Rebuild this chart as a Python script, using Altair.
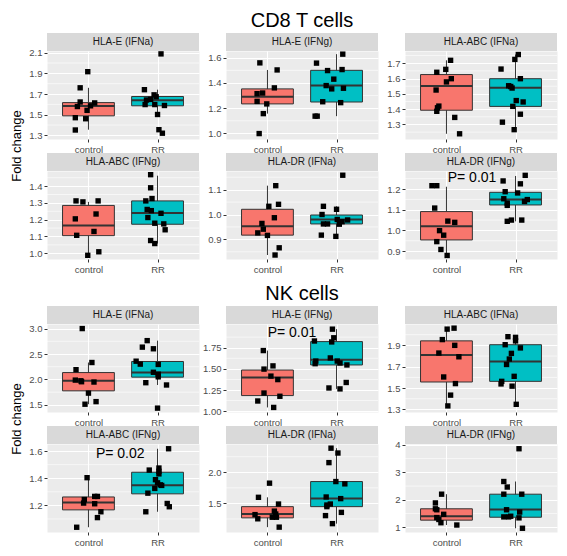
import altair as alt
import pandas as pd

FONT = "Liberation Sans"
W, H = 152, 88
BOX_HALF = 0.375
FILLS = ["#F8766D", "#00BFC4"]
GROUPS = ["control", "RR"]

# ---------------- CD8 T cells ----------------
# HLA-E (IFNa)
cd8_e_ifna_control = [1.916, 1.760, 1.623, 1.579, 1.586, 1.614, 1.542, 1.471, 1.461, 1.352]
cd8_e_ifna_control_jitter = [-0.01, -0.12, -0.12, -0.16, 0.03, 0.09, -0.02, -0.19, -0.04, -0.19]
cd8_e_ifna_rr = [2.088, 1.742, 1.692, 1.673, 1.642, 1.648, 1.598, 1.598, 1.589, 1.502, 1.355, 1.321]
cd8_e_ifna_rr_jitter = [0.05, -0.19, -0.05, -0.02, -0.16, -0.10, -0.18, -0.04, 0.10, 0.0, 0.02, 0.07]
cd8_e_ifna_box_control = [1.355, 1.489, 1.583, 1.617, 1.760]   # low, q1, median, q3, high
cd8_e_ifna_box_rr = [1.502, 1.586, 1.639, 1.676, 1.742]

# HLA-E (IFNg)
cd8_e_ifng_control = [1.559, 1.503, 1.361, 1.320, 1.315, 1.254, 1.234, 1.157, 0.999]
cd8_e_ifng_control_jitter = [-0.11, 0.14, 0.10, -0.07, -0.15, -0.15, -0.01, -0.06, -0.12]
cd8_e_ifng_rr = [1.628, 1.557, 1.498, 1.506, 1.430, 1.379, 1.353, 1.358, 1.251, 1.244, 1.137, 1.137]
cd8_e_ifng_rr_jitter = [0.09, -0.29, -0.13, 0.08, -0.04, -0.15, -0.07, 0.10, -0.20, 0.06, -0.31, -0.28]
cd8_e_ifng_box_control = [1.157, 1.234, 1.290, 1.353, 1.503]
cd8_e_ifng_box_rr = [1.137, 1.249, 1.379, 1.500, 1.628]

# HLA-ABC (IFNa)
cd8_abc_ifna_control = [1.719, 1.660, 1.641, 1.599, 1.578, 1.525, 1.420, 1.409, 1.386, 1.346, 1.239]
cd8_abc_ifna_control_jitter = [0.06, -0.01, -0.14, 0.07, 0.0, -0.15, -0.11, -0.13, -0.14, 0.12, 0.19]
cd8_abc_ifna_rr = [1.757, 1.725, 1.662, 1.599, 1.553, 1.548, 1.538, 1.456, 1.447, 1.418, 1.367, 1.315, 1.266]
cd8_abc_ifna_rr_jitter = [0.04, -0.01, -0.21, 0.07, -0.10, -0.07, -0.05, 0.01, 0.11, -0.04, 0.07, -0.19, -0.02]
cd8_abc_ifna_box_control = [1.239, 1.393, 1.551, 1.626, 1.719]
cd8_abc_ifna_box_rr = [1.266, 1.418, 1.540, 1.599, 1.757]

# HLA-ABC (IFNg)
cd8_abc_ifng_control = [1.312, 1.306, 1.312, 1.234, 1.205, 1.107, 1.130, 1.009, 0.988]
cd8_abc_ifng_control_jitter = [-0.18, -0.08, 0.14, 0.11, -0.19, -0.17, 0.08, 0.15, -0.01]
cd8_abc_ifng_rr = [1.468, 1.390, 1.326, 1.312, 1.261, 1.254, 1.213, 1.238, 1.179, 1.175, 1.140, 1.076, 1.058]
cd8_abc_ifng_rr_jitter = [-0.10, -0.10, -0.08, -0.17, -0.15, -0.09, -0.14, 0.05, -0.04, 0.09, 0.11, -0.10, -0.04]
cd8_abc_ifng_box_control = [0.988, 1.105, 1.166, 1.285, 1.306]
cd8_abc_ifng_box_rr = [1.058, 1.173, 1.240, 1.312, 1.462]

# HLA-DR (IFNa)
cd8_dr_ifna_control = [1.116, 1.041, 1.033, 0.987, 0.964, 0.941, 0.926, 0.916, 0.866, 0.837]
cd8_dr_ifna_control_jitter = [0.12, 0.16, 0.02, 0.10, -0.08, -0.06, -0.14, 0.0, 0.17, 0.11]
cd8_dr_ifna_rr = [1.158, 1.033, 1.021, 1.000, 0.980, 0.978, 0.971, 0.962, 0.962, 0.961, 0.917, 0.912]
cd8_dr_ifna_rr_jitter = [0.09, -0.19, 0.0, -0.21, 0.01, 0.16, 0.08, -0.19, -0.13, 0.04, -0.22, -0.01]
cd8_dr_ifna_box_control = [0.837, 0.917, 0.953, 1.021, 1.116]
cd8_dr_ifna_box_rr = [0.912, 0.962, 0.980, 0.998, 1.033]

# HLA-DR (IFNg)
cd8_dr_ifng_control = [1.216, 1.216, 1.108, 1.045, 1.039, 0.999, 0.977, 0.946, 0.908, 0.879]
cd8_dr_ifng_control_jitter = [-0.21, -0.14, -0.17, 0.02, 0.12, -0.10, -0.04, -0.14, -0.08, 0.01]
cd8_dr_ifng_rr = [1.266, 1.239, 1.225, 1.187, 1.181, 1.153, 1.132, 1.149, 1.140, 1.121, 1.044, 1.050, 1.050]
cd8_dr_ifng_rr_jitter = [0.14, -0.18, 0.07, -0.15, 0.03, -0.17, -0.12, 0.17, 0.13, -0.12, -0.12, -0.06, 0.09]
cd8_dr_ifng_box_control = [0.879, 0.954, 1.020, 1.091, 1.211]
cd8_dr_ifng_box_rr = [1.044, 1.123, 1.149, 1.184, 1.263]

# ---------------- NK cells ----------------
# HLA-E (IFNa)
nk_e_ifna_control = [3.0, 2.333, 2.192, 1.987, 1.974, 1.955, 1.949, 1.731, 1.513, 1.564]
nk_e_ifna_control_jitter = [-0.09, 0.05, -0.18, -0.19, -0.11, -0.10, 0.08, 0.0, -0.05, 0.11]
nk_e_ifna_rr = [2.763, 2.635, 2.603, 2.359, 2.301, 2.295, 2.141, 2.103, 2.051, 1.936, 1.891, 1.436]
nk_e_ifna_rr_jitter = [-0.15, -0.22, -0.06, -0.31, -0.25, 0.01, -0.06, 0.01, 0.01, -0.17, 0.13, 0.0]
nk_e_ifna_box_control = [1.513, 1.776, 1.974, 2.135, 2.333]
nk_e_ifna_box_rr = [1.891, 2.045, 2.135, 2.353, 2.763]

# HLA-E (IFNg)
nk_e_ifng_control = [1.716, 1.535, 1.497, 1.414, 1.373, 1.214, 1.176, 1.120, 1.044]
nk_e_ifng_control_jitter = [-0.06, 0.08, -0.05, 0.05, 0.15, -0.05, 0.18, -0.14, 0.09]
nk_e_ifng_rr = [1.969, 1.867, 1.829, 1.818, 1.629, 1.592, 1.592, 1.569, 1.561, 1.546, 1.339, 1.274, 1.263]
nk_e_ifng_rr_jitter = [-0.06, -0.04, -0.32, -0.07, -0.09, -0.30, 0.01, 0.05, -0.31, 0.15, 0.14, -0.11, 0.05]
nk_e_ifng_box_control = [1.044, 1.184, 1.399, 1.486, 1.716]
nk_e_ifng_box_rr = [1.263, 1.546, 1.607, 1.822, 1.969]

# HLA-ABC (IFNa)
nk_abc_ifna_control = [2.052, 2.061, 1.954, 1.900, 1.828, 1.793, 1.604, 1.542, 1.434, 1.333]
nk_abc_ifna_control_jitter = [0.01, 0.11, -0.06, 0.12, -0.11, 0.18, -0.04, 0.13, 0.06, 0.02]
nk_abc_ifna_rr = [1.981, 1.975, 1.942, 1.906, 1.876, 1.825, 1.772, 1.721, 1.610, 1.563, 1.539, 1.518, 1.348]
nk_abc_ifna_rr_jitter = [-0.11, 0.0, 0.0, -0.15, 0.07, -0.06, -0.09, -0.13, -0.02, -0.20, -0.21, -0.05, 0.01]
nk_abc_ifna_box_control = [1.333, 1.557, 1.810, 1.942, 2.061]
nk_abc_ifna_box_rr = [1.348, 1.563, 1.748, 1.906, 1.981]

# HLA-ABC (IFNg)
nk_abc_ifng_control = [1.404, 1.266, 1.266, 1.243, 1.217, 1.212, 1.153, 1.110, 1.039]
nk_abc_ifng_control_jitter = [-0.02, 0.09, 0.13, -0.06, -0.07, 0.09, 0.18, 0.13, -0.17]
nk_abc_ifng_rr = [1.617, 1.460, 1.475, 1.451, 1.432, 1.389, 1.366, 1.351, 1.347, 1.325, 1.290, 1.214, 1.190, 1.153]
nk_abc_ifng_rr_jitter = [0.16, -0.12, 0.02, 0.02, 0.02, -0.03, 0.0, 0.04, 0.06, -0.04, -0.14, 0.14, 0.17, -0.17]
nk_abc_ifng_box_control = [1.039, 1.167, 1.221, 1.262, 1.404]
nk_abc_ifng_box_rr = [1.153, 1.285, 1.349, 1.444, 1.617]

# HLA-DR (IFNa)
nk_dr_ifna_control = [1.825, 1.598, 1.490, 1.376, 1.330, 1.320, 1.253, 1.278, 1.278, 1.119]
nk_dr_ifna_control_jitter = [0.03, -0.13, 0.16, 0.10, 0.12, -0.18, -0.14, 0.07, 0.13, 0.17]
nk_dr_ifna_rr = [2.387, 2.309, 2.155, 1.851, 1.814, 1.603, 1.577, 1.490, 1.474, 1.448, 1.356, 1.304, 1.175]
nk_dr_ifna_rr_jitter = [-0.08, 0.02, -0.11, -0.01, 0.12, -0.15, 0.06, -0.09, -0.14, -0.14, 0.07, -0.16, -0.06]
nk_dr_ifna_box_control = [1.119, 1.268, 1.330, 1.448, 1.598]
nk_dr_ifna_box_rr = [1.175, 1.448, 1.577, 1.851, 2.387]

# HLA-DR (IFNg)
nk_dr_ifng_control = [2.205, 1.887, 1.674, 1.639, 1.473, 1.355, 1.285, 1.167, 1.084]
nk_dr_ifng_control_jitter = [-0.07, -0.16, -0.16, -0.14, -0.04, -0.14, -0.11, -0.08, 0.15]
nk_dr_ifng_rr = [3.858, 2.666, 2.465, 2.205, 2.205, 1.639, 1.556, 1.379, 1.379, 1.403, 1.344, 0.966]
nk_dr_ifng_rr_jitter = [0.05, -0.17, -0.12, -0.17, 0.09, -0.13, 0.06, -0.17, -0.10, -0.07, 0.05, 0.10]
nk_dr_ifng_box_control = [1.084, 1.261, 1.403, 1.674, 2.205]
nk_dr_ifng_box_rr = [0.966, 1.367, 1.651, 2.205, 2.666]

# annotations
p_labels = ["P= 0.01", "P= 0.01", "P= 0.02"]
group_titles = ["CD8 T cells", "NK cells"]
y_title = "Fold change"

PANELS = [
    dict(title="HLA-E (IFNa)", c=cd8_e_ifna_control, cj=cd8_e_ifna_control_jitter, r=cd8_e_ifna_rr, rj=cd8_e_ifna_rr_jitter,
         bc=cd8_e_ifna_box_control, br=cd8_e_ifna_box_rr, domain=[1.265, 2.116], ticks=[1.3, 1.5, 1.7, 1.9, 2.1], fmt=".1f"),
    dict(title="HLA-E (IFNg)", c=cd8_e_ifng_control, cj=cd8_e_ifng_control_jitter, r=cd8_e_ifng_rr, rj=cd8_e_ifng_rr_jitter,
         bc=cd8_e_ifng_box_control, br=cd8_e_ifng_box_rr, domain=[0.956, 1.653], ticks=[1.0, 1.2, 1.4, 1.6], fmt=".1f",
         group=group_titles[0]),
    dict(title="HLA-ABC (IFNa)", c=cd8_abc_ifna_control, cj=cd8_abc_ifna_control_jitter, r=cd8_abc_ifna_rr, rj=cd8_abc_ifna_rr_jitter,
         bc=cd8_abc_ifna_box_control, br=cd8_abc_ifna_box_rr, domain=[1.205, 1.78], ticks=[1.3, 1.4, 1.5, 1.6, 1.7], fmt=".1f"),
    dict(title="HLA-ABC (IFNg)", c=cd8_abc_ifng_control, cj=cd8_abc_ifng_control_jitter, r=cd8_abc_ifng_rr, rj=cd8_abc_ifng_rr_jitter,
         bc=cd8_abc_ifng_box_control, br=cd8_abc_ifng_box_rr, domain=[0.966, 1.49], ticks=[1.0, 1.1, 1.2, 1.3, 1.4], fmt=".1f"),
    dict(title="HLA-DR (IFNa)", c=cd8_dr_ifna_control, cj=cd8_dr_ifna_control_jitter, r=cd8_dr_ifna_rr, rj=cd8_dr_ifna_rr_jitter,
         bc=cd8_dr_ifna_box_control, br=cd8_dr_ifna_box_rr, domain=[0.821, 1.175], ticks=[0.9, 1.0, 1.1], fmt=".1f"),
    dict(title="HLA-DR (IFNg)", c=cd8_dr_ifng_control, cj=cd8_dr_ifng_control_jitter, r=cd8_dr_ifng_rr, rj=cd8_dr_ifng_rr_jitter,
         bc=cd8_dr_ifng_box_control, br=cd8_dr_ifng_box_rr, domain=[0.862, 1.287], ticks=[0.9, 1.0, 1.1, 1.2], fmt=".1f",
         p=(p_labels[0], 1.37, 1.252)),
    dict(title="HLA-E (IFNa)", c=nk_e_ifna_control, cj=nk_e_ifna_control_jitter, r=nk_e_ifna_rr, rj=nk_e_ifna_rr_jitter,
         bc=nk_e_ifna_box_control, br=nk_e_ifna_box_rr, domain=[1.36, 3.09], ticks=[1.5, 2.0, 2.5, 3.0], fmt=".1f"),
    dict(title="HLA-E (IFNg)", c=nk_e_ifng_control, cj=nk_e_ifng_control_jitter, r=nk_e_ifng_rr, rj=nk_e_ifng_rr_jitter,
         bc=nk_e_ifng_box_control, br=nk_e_ifng_box_rr, domain=[0.99, 2.03], ticks=[1.0, 1.25, 1.5, 1.75], fmt=".2f",
         p=(p_labels[1], 1.355, 1.924), group=group_titles[1]),
    dict(title="HLA-ABC (IFNa)", c=nk_abc_ifna_control, cj=nk_abc_ifna_control_jitter, r=nk_abc_ifna_rr, rj=nk_abc_ifna_rr_jitter,
         bc=nk_abc_ifna_box_control, br=nk_abc_ifna_box_rr, domain=[1.276, 2.10], ticks=[1.3, 1.5, 1.7, 1.9], fmt=".1f"),
    dict(title="HLA-ABC (IFNg)", c=nk_abc_ifng_control, cj=nk_abc_ifng_control_jitter, r=nk_abc_ifng_rr, rj=nk_abc_ifng_rr_jitter,
         bc=nk_abc_ifng_box_control, br=nk_abc_ifng_box_rr, domain=[1.004, 1.652], ticks=[1.2, 1.4, 1.6], fmt=".1f",
         p=(p_labels[2], 1.46, 1.576)),
    dict(title="HLA-DR (IFNa)", c=nk_dr_ifna_control, cj=nk_dr_ifna_control_jitter, r=nk_dr_ifna_rr, rj=nk_dr_ifna_rr_jitter,
         bc=nk_dr_ifna_box_control, br=nk_dr_ifna_box_rr, domain=[1.041, 2.454], ticks=[1.5, 2.0], fmt=".1f"),
    dict(title="HLA-DR (IFNg)", c=nk_dr_ifng_control, cj=nk_dr_ifng_control_jitter, r=nk_dr_ifng_rr, rj=nk_dr_ifng_rr_jitter,
         bc=nk_dr_ifng_box_control, br=nk_dr_ifng_box_rr, domain=[0.83, 4.03], ticks=[1, 2, 3, 4], fmt="d"),
]


def make_panel(spec, ylabel=False):
    pts = pd.DataFrame({
        "group": ["control"] * len(spec["c"]) + ["RR"] * len(spec["r"]),
        "xj": [1 + j for j in spec["cj"]] + [2 + j for j in spec["rj"]],
        "value": spec["c"] + spec["r"],
    })
    bc, br = spec["bc"], spec["br"]
    box = pd.DataFrame({
        "group": GROUPS,
        "pos": [1, 2],
        "lo": [bc[0], br[0]],
        "q1": [bc[1], br[1]],
        "med": [bc[2], br[2]],
        "q3": [bc[3], br[3]],
        "hi": [bc[4], br[4]],
    })
    box["x1"] = box["pos"] - BOX_HALF
    box["x2"] = box["pos"] + BOX_HALF

    ticks = spec["ticks"]
    dom = spec["domain"]
    step = ticks[1] - ticks[0]
    minor = [t - step / 2 for t in ticks] + [ticks[-1] + step / 2]
    minor = [m for m in minor if dom[0] <= m <= dom[1]]

    xs = alt.Scale(domain=[0.4, 2.6], nice=False, zero=False)
    ys = alt.Scale(domain=dom, nice=False, zero=False)
    common = dict(title=None, domain=False, tickColor="#333333", tickSize=3, tickWidth=1,
                  labelColor="#4D4D4D", labelFont=FONT, labelFontSize=9.5, grid=True,
                  gridColor="white", gridWidth=1.1)
    xaxis = alt.Axis(values=[1, 2], labelExpr="datum.value == 1 ? 'control' : 'RR'", labelPadding=2, **common)
    yaxis = alt.Axis(values=ticks, format=spec["fmt"], labelPadding=2, **common)

    def X(f):
        return alt.X(f, type="quantitative", scale=xs, axis=xaxis)

    def Y(f):
        return alt.Y(f, type="quantitative", scale=ys, axis=yaxis)

    color = alt.Color("group:N", scale=alt.Scale(domain=GROUPS, range=FILLS), legend=None)

    minor_grid = alt.Chart(pd.DataFrame({"m": minor})).mark_rule(color="white", strokeWidth=0.6).encode(y=Y("m"))
    whisk = alt.Chart(box).mark_rule(color="#333333", strokeWidth=1).encode(x=X("pos"), y=Y("lo"), y2="hi")
    boxes = alt.Chart(box).mark_rect(stroke="#333333", strokeWidth=1, opacity=1).encode(
        x=X("x1"), x2="x2", y=Y("q1"), y2="q3", color=color)
    med = alt.Chart(box).mark_rule(color="#333333", strokeWidth=2).encode(x=X("x1"), x2="x2", y=Y("med"))
    points = alt.Chart(pts).mark_square(size=29, color="black", opacity=1).encode(x=X("xj"), y=Y("value"))

    lab = pd.DataFrame({"t": [spec["title"]]})
    strip = alt.Chart(lab).mark_rect(color="#D9D9D9").encode(
        x=alt.value(0), x2=alt.value(W), y=alt.value(-18), y2=alt.value(0))
    strip_text = alt.Chart(lab).mark_text(font=FONT, fontSize=10, color="#1A1A1A").encode(
        text="t:N", x=alt.value(W / 2), y=alt.value(-9))

    layers = [minor_grid, whisk, boxes, med, points, strip, strip_text]

    if "p" in spec:
        ptxt, px, py = spec["p"]
        pdf = pd.DataFrame({"t": [ptxt], "x": [px], "y": [py]})
        layers.append(alt.Chart(pdf).mark_text(font=FONT, fontSize=14, color="black").encode(
            text="t:N", x=X("x"), y=Y("y")))
    if "group" in spec:
        gdf = pd.DataFrame({"t": [spec["group"]]})
        layers.append(alt.Chart(gdf).mark_text(font=FONT, fontSize=20, color="black").encode(
            text="t:N", x=alt.value(W / 2), y=alt.value(-30)))
    if ylabel:
        ydf = pd.DataFrame({"t": [y_title]})
        layers.append(alt.Chart(ydf).mark_text(font=FONT, fontSize=13, color="black", angle=270).encode(
            text="t:N", x=alt.value(-30), y=alt.value(95)))

    return alt.layer(*layers).properties(width=W, height=H)


def spacer():
    return alt.Chart(pd.DataFrame({"a": [0]})).mark_point(opacity=0).encode(
        x=alt.value(0), y=alt.value(0)).properties(
        width=W, height=1, view=alt.ViewBackground(fillOpacity=0, strokeOpacity=0))


charts = []
for i, spec in enumerate(PANELS):
    if i == 6:
        charts += [spacer(), spacer(), spacer()]
    charts.append(make_panel(spec, ylabel=(i in (0, 6))))

chart = alt.concat(*charts, columns=3, spacing={"row": 32, "column": 27}, bounds="flush").properties(
    padding={"left": 3, "top": 3, "right": 0, "bottom": 0}, background="white"
).configure_view(fill="#EBEBEB", strokeOpacity=0)

chart.save("out.html", embed_options={"renderer": "svg", "actions": False})
